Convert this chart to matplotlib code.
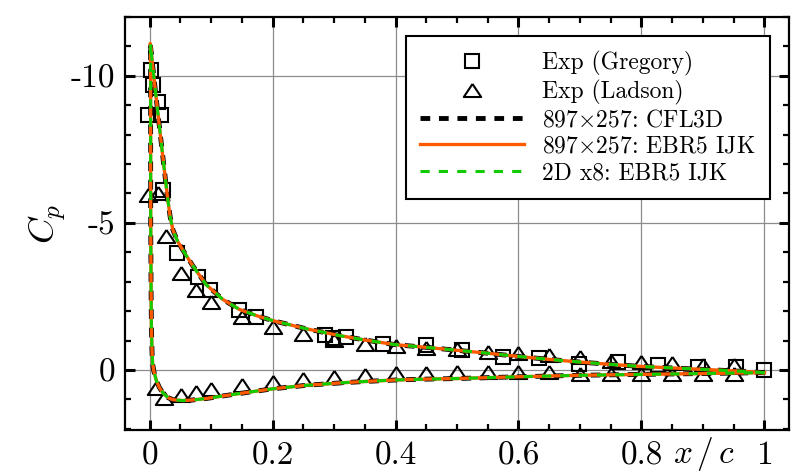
import numpy as np
import matplotlib
matplotlib.use('Agg')
import matplotlib.pyplot as plt

plt.rcParams['font.family'] = 'serif'
plt.rcParams['font.serif'] = ['cmr10']
plt.rcParams['mathtext.fontset'] = 'cm'
plt.rcParams['axes.unicode_minus'] = False
plt.rcParams['axes.formatter.use_mathtext'] = True

# CFD surface pressure (upper surface TE -> LE, lower surface LE -> TE)
upper_x = [1.0, 0.95, 0.9, 0.85, 0.8, 0.75, 0.7, 0.65, 0.6, 0.55, 0.5, 0.45, 0.4,
           0.35, 0.309, 0.255, 0.2, 0.175, 0.146, 0.119, 0.092, 0.07, 0.054,
           0.045, 0.038, 0.0335, 0.029, 0.024, 0.018, 0.012, 0.006, 0.001]
upper_cp = [0.09, 0.03, -0.02, -0.07, -0.12, -0.19, -0.27, -0.36, -0.46, -0.57,
            -0.67, -0.77, -0.86, -1.02, -1.17, -1.40, -1.68, -1.84, -2.06, -2.4,
            -2.9, -3.55, -4.08, -4.4, -4.76, -5.2, -5.9, -6.8, -7.9, -9.0,
            -10.15, -11.1]
lower_x = [0.0017, 0.0017, 0.0018, 0.0025, 0.003, 0.004, 0.005, 0.007, 0.011,
           0.016, 0.022, 0.03, 0.038, 0.054, 0.07, 0.092, 0.12, 0.146, 0.2,
           0.255, 0.309, 0.35, 0.4, 0.45, 0.5, 0.6, 0.7, 0.8, 0.9, 1.0]
lower_cp = [-11.0, -8.0, -5.0, -2.5, -1.4, -0.6, -0.2, 0.05, 0.36, 0.6, 0.79,
            0.94, 1.01, 1.04, 1.02, 0.97, 0.88, 0.8, 0.64, 0.52, 0.44, 0.39,
            0.34, 0.31, 0.29, 0.23, 0.18, 0.15, 0.12, 0.09]

# Experiments
greg_x = [-0.003, 0.003, 0.0055, 0.0135, 0.019, 0.022, 0.045, 0.079, 0.098,
          0.146, 0.173, 0.285, 0.298, 0.32, 0.379, 0.45, 0.508, 0.575, 0.634,
          0.699, 0.762, 0.827, 0.892, 0.954, 1.0]
greg_cp = [-8.67, -10.2, -9.7, -9.1, -8.67, -6.12, -3.97, -3.17, -2.72, -2.04,
           -1.81, -1.19, -1.08, -1.13, -0.88, -0.85, -0.68, -0.45, -0.40, -0.2,
           -0.28, -0.17, -0.11, -0.11, 0.0]
lad_up_x = [-0.003, 0.0136, 0.027, 0.0515, 0.075, 0.1, 0.15, 0.2, 0.25, 0.3,
            0.35, 0.4, 0.45, 0.5, 0.55, 0.6, 0.65, 0.7, 0.75, 0.8, 0.85, 0.9, 0.95]
lad_up_cp = [-5.95, -6.0, -4.55, -3.29, -2.72, -2.32, -1.81, -1.46, -1.22,
             -1.03, -0.88, -0.82, -0.76, -0.72, -0.62, -0.57, -0.51, -0.45,
             -0.3, -0.28, -0.23, -0.17, -0.16]
lad_lo_x = [0.011, 0.024, 0.0515, 0.076, 0.1, 0.15, 0.2, 0.25, 0.3, 0.35, 0.4,
            0.45, 0.5, 0.55, 0.6, 0.65, 0.7, 0.75, 0.8, 0.85, 0.9, 0.95]
lad_lo_cp = [0.62, 0.96, 0.85, 0.74, 0.66, 0.51, 0.40, 0.32, 0.25, 0.17, 0.11,
             0.11, 0.08, 0.08, 0.06, 0.08, 0.12, 0.15, 0.15, 0.15, 0.13, 0.12]

x_ticks = [0, 0.2, 0.4, 0.6, 0.8, 1]
x_ticklabels = ['0', '0.2', '0.4', '0.6', '0.8', '1']
y_ticks = [-10, -5, 0]
y_ticklabels = ['-10', '-5', '0']

cfd_x = upper_x + lower_x
cfd_cp = upper_cp + lower_cp
exp_x = lad_up_x + lad_lo_x
exp_cp = lad_up_cp + lad_lo_cp

tri = [(0, 0.75), (-1, -0.75), (1, -0.75), (0, 0.75)]

fig = plt.figure(figsize=(7.97, 4.73), dpi=100)
ax = fig.add_axes([125/797, 43/473, 664/797, 413/473])

ax.plot(greg_x, greg_cp, ls='none', marker='s', ms=10, mfc='none', mec='k',
        mew=1.5, label='Exp (Gregory)', zorder=3)
ax.plot(exp_x, exp_cp, ls='none', marker=tri, ms=12.5, mfc='none', mec='k',
        mew=1.5, label='Exp (Ladson)', zorder=3)
ax.plot(cfd_x, cfd_cp, color='k', lw=3.5, dashes=(2.0, 1.8),
        label=r'897$\times$257: CFL3D', zorder=4)
ax.plot(cfd_x, cfd_cp, color='#ff5a00', lw=2.4,
        label=r'897$\times$257: EBR5 IJK', zorder=5)
ax.plot(cfd_x, cfd_cp, color='#11cc00', lw=2.2, dashes=(3.0, 3.0),
        label='2D x8: EBR5 IJK', zorder=6)

ax.set_xlim(-0.04, 1.04)
ax.set_ylim(2.04, -12)
ax.set_xticks(x_ticks)
ax.set_xticklabels(x_ticklabels)
ax.set_yticks(y_ticks)
ax.set_yticklabels(y_ticklabels)
ax.set_xticks(np.arange(-0.0, 1.04, 0.05), minor=True)
ax.set_yticks(np.arange(-12, 2.5, 1), minor=True)
ax.tick_params(which='both', direction='in', top=True, right=True,
               labelsize=24)
ax.tick_params(which='major', length=7, width=2.2)
ax.tick_params(which='minor', length=4.5, width=1.6)
ax.tick_params(axis='x', pad=8)
ax.tick_params(axis='y', pad=7)
for s in ax.spines.values():
    s.set_linewidth(1.6)
ax.grid(True, which='major', color='#8c8c8c', lw=0.9)
ax.set_axisbelow(True)

ax.set_ylabel(r'$C_p$', fontsize=26, labelpad=2)
ax.text(0.902, -0.08, r'$x\,/\,c$', transform=ax.get_xaxis_transform(),
        ha='center', va='baseline', fontsize=24)

leg = ax.legend(loc='upper right', fontsize=17, handlelength=4.4,
                handletextpad=0.75, borderpad=0.62, labelspacing=0.18,
                borderaxespad=0.8, fancybox=False, framealpha=1)
leg.get_frame().set_edgecolor('k')
leg.get_frame().set_linewidth(1.5)

fig.savefig('out.png', dpi=100)
